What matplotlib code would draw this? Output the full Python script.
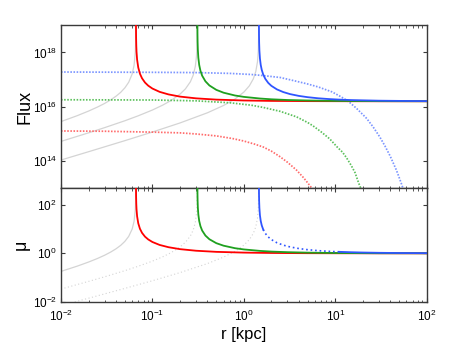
import numpy as np
import matplotlib
matplotlib.use("Agg")
import matplotlib.pyplot as plt
from matplotlib.ticker import FixedLocator, LogLocator, NullLocator, LogFormatterSciNotation

plt.rcParams['font.family'] = ['Liberation Sans', 'DejaVu Sans']

# ---------------- data ----------------
# red lens (Einstein radius ~0.066 kpc)
r_red_out = [0.0661, 0.0663, 0.0666, 0.067, 0.068, 0.07, 0.073, 0.077, 0.083, 0.09, 0.1, 0.12,
             0.15, 0.2, 0.3, 0.5, 1, 2, 5, 10, 30, 100]
mu_red_out = [661, 221, 111, 67, 34, 17.5, 10.4, 7.0, 4.88, 3.75, 2.94, 2.22,
              1.79, 1.49, 1.28, 1.15, 1.071, 1.034, 1.013, 1.007, 1.002, 1.001]
flux_red_out = [1.06e19, 3.54e18, 1.78e18, 1.07e18, 5.44e17, 2.8e17, 1.66e17, 1.12e17, 7.81e16, 6.0e16,
                4.70e16, 3.55e16, 2.86e16, 2.38e16, 2.05e16, 1.84e16, 1.71e16, 1.65e16, 1.62e16, 1.61e16,
                1.60e16, 1.60e16]
r_red_in = [0.01, 0.015, 0.02, 0.025, 0.03, 0.035, 0.04, 0.045, 0.05, 0.055, 0.06, 0.063, 0.065, 0.0655, 0.0659]
mu_red_in = [0.179, 0.294, 0.435, 0.61, 0.833, 1.13, 1.54, 2.14, 3.13, 5.0, 10, 21, 65, 131, 659]
flux_red_in = [2.86e15, 4.70e15, 6.96e15, 9.76e15, 1.33e16, 1.81e16, 2.46e16, 3.42e16, 5.01e16, 8.0e16,
               1.6e17, 3.36e17, 1.04e18, 2.10e18, 1.05e19]

# green lens (Einstein radius ~0.31 kpc)
r_green_out = [0.3103, 0.311, 0.312, 0.314, 0.318, 0.325, 0.335, 0.35, 0.38, 0.42, 0.5, 0.6, 0.8, 1,
               1.5, 2, 3, 5, 10, 30, 100]
mu_green_out = [1034, 311, 156, 78.5, 39.75, 21.7, 13.4, 8.75, 5.43, 3.82, 2.63, 2.07, 1.63, 1.45,
                1.26, 1.18, 1.115, 1.066, 1.032, 1.010, 1.003]
flux_green_out = [1.65e19, 4.98e18, 2.50e18, 1.26e18, 6.36e17, 3.47e17, 2.14e17, 1.40e17, 8.69e16, 6.11e16,
                  4.21e16, 3.31e16, 2.61e16, 2.32e16, 2.02e16, 1.89e16, 1.78e16, 1.71e16, 1.65e16, 1.62e16,
                  1.60e16]
r_green_in = [0.01, 0.02, 0.03, 0.05, 0.07, 0.1, 0.13, 0.16, 0.2, 0.23, 0.26, 0.28, 0.295, 0.303, 0.307,
              0.309, 0.3097]
mu_green_in = [0.0333, 0.069, 0.107, 0.192, 0.292, 0.476, 0.722, 1.067, 1.82, 2.875, 5.2, 9.33, 19.7, 43.3,
               102, 309, 1032]
flux_green_in = [5.33e14, 1.10e15, 1.71e15, 3.07e15, 4.67e15, 7.62e15, 1.16e16, 1.71e16, 2.91e16, 4.6e16,
                 8.32e16, 1.49e17, 3.15e17, 6.93e17, 1.63e18, 4.94e18, 1.65e19]

# blue lens (Einstein radius ~1.46 kpc)
r_blue_out = [1.4615, 1.465, 1.47, 1.48, 1.5, 1.53, 1.57, 1.63, 1.72, 1.85, 2.0, 2.3, 2.7, 3.2, 4, 5, 6.5,
              8.5, 11, 15, 20, 30, 50, 100]
mu_blue_out = [974, 293, 147, 74, 37.5, 21.9, 14.3, 9.59, 6.62, 4.74, 3.70, 2.74, 2.18, 1.84, 1.575, 1.412,
               1.29, 1.207, 1.153, 1.108, 1.079, 1.051, 1.030, 1.015]
flux_blue_out = [1.56e19, 4.69e18, 2.35e18, 1.18e18, 6.0e17, 3.50e17, 2.29e17, 1.53e17, 1.06e17, 7.58e16,
                 5.92e16, 4.38e16, 3.49e16, 2.94e16, 2.52e16, 2.26e16, 2.06e16, 1.93e16, 1.84e16, 1.77e16,
                 1.73e16, 1.68e16, 1.65e16, 1.62e16]
r_blue_in = [0.01, 0.02, 0.05, 0.1, 0.2, 0.4, 0.6, 0.8, 1.0, 1.15, 1.27, 1.35, 1.41, 1.44, 1.455, 1.459]
mu_blue_in = [0.0069, 0.0139, 0.0355, 0.0735, 0.159, 0.377, 0.698, 1.21, 2.17, 3.71, 6.68, 12.3, 28.2, 72,
              291, 1459]
flux_blue_in = [1.10e14, 2.22e14, 5.68e14, 1.18e15, 2.54e15, 6.03e15, 1.12e16, 1.94e16, 3.47e16, 5.94e16,
                1.07e17, 1.97e17, 4.51e17, 1.15e18, 4.66e18, 2.33e19]

# unlensed source fluxes (dotted)
r_src_red = [0.01, 0.03, 0.1, 0.2, 0.3, 0.5, 0.75, 1.0, 1.3, 1.63, 2.0, 2.47, 3.0, 3.77, 4.5, 5.0, 5.7, 6.5]
flux_src_red = [1.29e15, 1.26e15, 1.17e15, 1.10e15, 1.0e15, 8.5e14, 6.8e14, 5.5e14, 4.27e14, 3.31e14,
                2.34e14, 1.48e14, 9.1e13, 4.68e13, 2.45e13, 1.58e13, 8.9e12, 4.5e12]
r_src_green = [0.01, 0.1, 0.3, 0.7, 1.2, 1.63, 2.5, 3.77, 5.0, 5.7, 7.0, 8.7, 10.5, 12, 13.3, 15, 16.5,
               18, 19.5, 21]
flux_src_green = [1.82e16, 1.78e16, 1.66e16, 1.41e16, 1.15e16, 9.5e15, 6.8e15, 4.27e15, 2.63e15, 2.0e15,
                  1.2e15, 6.6e14, 3.3e14, 2.14e14, 1.32e14, 6.8e13, 3.7e13, 1.58e13, 8.3e12, 4.5e12]
r_src_blue = [0.01, 0.1, 0.3, 0.7, 1.2, 1.63, 2.5, 3.77, 5, 6.5, 8, 9.2, 11, 12.8, 14.5, 17, 20, 22.1, 26,
              30.6, 35, 40, 46.6, 50, 53, 56, 59]
flux_src_blue = [1.91e17, 1.86e17, 1.82e17, 1.70e17, 1.55e17, 1.41e17, 1.20e17, 8.7e16, 6.9e16, 5.4e16,
                 4.2e16, 3.55e16, 2.57e16, 1.9e16, 1.41e16, 8.9e15, 5.2e15, 3.7e15, 1.8e15, 7.9e14, 3.6e14,
                 1.5e14, 4.7e13, 2.5e13, 1.45e13, 8.5e12, 5e12]

# style
C_RED, C_GREEN, C_BLUE = '#ff0000', '#1fa01f', '#2f55ff'
C_RED_D, C_GREEN_D, C_BLUE_D = '#ff6b6b', '#5cc05c', '#7b95ff'
C_GREY = '#d4d4d4'
SPINE = '#3a3a3a'

fig = plt.figure(figsize=(4.71, 3.44), dpi=100)
ax1 = fig.add_axes([0.1295, 0.4526, 0.7764, 0.4738])
ax2 = fig.add_axes([0.1295, 0.1230, 0.7764, 0.3297], sharex=ax1)

# ---- top panel: flux ----
for r, f in [(r_red_in, flux_red_in), (r_green_in, flux_green_in), (r_blue_in, flux_blue_in)]:
    ax1.plot(r, f, color=C_GREY, lw=0.9, zorder=1)
for r, f, c in [(r_src_red, flux_src_red, C_RED_D), (r_src_green, flux_src_green, C_GREEN_D),
                (r_src_blue, flux_src_blue, C_BLUE_D)]:
    ax1.plot(r, f, color=c, lw=1.25, dashes=(0.9, 0.9), zorder=2)
for r, f, c in [(r_red_out, flux_red_out, C_RED), (r_green_out, flux_green_out, C_GREEN),
                (r_blue_out, flux_blue_out, C_BLUE)]:
    ax1.plot(r, f, color=c, lw=1.3, zorder=3)

# ---- bottom panel: magnification ----
ax2.plot(r_red_in, mu_red_in, color=C_GREY, lw=0.9, zorder=1)
ax2.plot(r_green_in, mu_green_in, color=C_GREY, lw=0.8, dashes=(1, 2.2), zorder=1)
ax2.plot(r_blue_in, mu_blue_in, color=C_GREY, lw=0.8, dashes=(1, 2.2), zorder=1)
ax2.plot(r_red_out, mu_red_out, color=C_RED, lw=1.3, zorder=3)
ax2.plot(r_green_out, mu_green_out, color=C_GREEN, lw=1.3, zorder=3)
rb = np.array(r_blue_out)
mb = np.array(mu_blue_out)
m1 = rb <= 1.63
m2 = (rb >= 1.63) & (rb <= 11)
m3 = rb >= 11
ax2.plot(rb[m1], mb[m1], color=C_BLUE, lw=1.3, zorder=4)
ax2.plot(rb[m2], mb[m2], color=C_BLUE, lw=1.2, dashes=(1, 1.7), zorder=4)
ax2.plot(rb[m3], mb[m3], color=C_BLUE, lw=1.3, zorder=4)

for ax in (ax1, ax2):
    ax.set_xscale('log')
    ax.set_yscale('log')
    ax.set_xlim(1e-2, 1e2)
    for s in ax.spines.values():
        s.set_color(SPINE)
        s.set_linewidth(1.0)
    ax.tick_params(which='both', direction='in', top=True, right=True, color=SPINE,
                   labelsize=8.5, pad=3)
    ax.tick_params(which='major', length=3.2, width=0.8)
    ax.tick_params(which='minor', length=1.8, width=0.6)
    ax.xaxis.set_major_locator(LogLocator(base=10, numticks=10))
    ax.xaxis.set_minor_locator(LogLocator(base=10, subs=np.arange(2, 10), numticks=20))
    ax.yaxis.set_minor_locator(NullLocator())

ax2.tick_params(axis='x', which='both', pad=5)

ax1.set_ylim(1e13, 1e19)
ax1.yaxis.set_major_locator(FixedLocator([1e14, 1e16, 1e18]))
ax1.yaxis.set_major_formatter(LogFormatterSciNotation())
ax1.tick_params(axis='x', labelbottom=False)

ax2.set_ylim(1e-2, 490)
ax2.yaxis.set_major_locator(FixedLocator([1e-2, 1e0, 1e2]))
ax2.yaxis.set_major_formatter(LogFormatterSciNotation())

ax1.set_ylabel('Flux', fontsize=13)
ax2.set_ylabel('μ', fontsize=13)
ax2.set_xlabel('r [kpc]', fontsize=12, labelpad=2)
ax1.yaxis.set_label_coords(-0.075, 0.5)
ax2.yaxis.set_label_coords(-0.085, 0.5)

fig.savefig('out.png', dpi=100)
